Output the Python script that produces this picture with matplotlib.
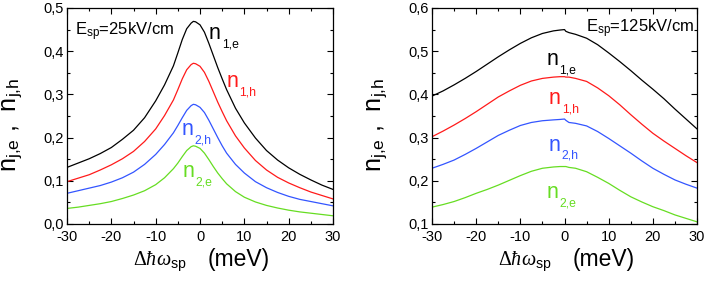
import matplotlib
matplotlib.use("Agg")
import matplotlib.pyplot as plt
import matplotlib.ticker as ticker

plt.rcParams["font.family"] = ["Liberation Sans", "DejaVu Sans"]
plt.rcParams["axes.unicode_minus"] = False
plt.rcParams["mathtext.fontset"] = "custom"
plt.rcParams["mathtext.rm"] = "Liberation Serif"
plt.rcParams["mathtext.sf"] = "Liberation Sans"
plt.rcParams["mathtext.it"] = "Liberation Serif:italic"

# ── data: E_sp = 25 kV/cm ────────────────────────────────────────────────────
x_25 = [-30, -27.5, -25, -22.5, -20, -17.5, -15, -12.5, -10, -8, -6, -5, -4, -3, -2,
        -1.5, -1, 0, 1, 2, 3, 4, 5, 6, 8, 10, 12.5, 15, 17.5, 20, 22.5, 25, 27.5, 30]
n1e_25 = [0.131, 0.141, 0.151, 0.163, 0.177, 0.196, 0.217, 0.246, 0.285, 0.322, 0.366,
          0.396, 0.427, 0.452, 0.465, 0.469, 0.468, 0.461, 0.444, 0.418, 0.390, 0.362,
          0.336, 0.311, 0.268, 0.234, 0.199, 0.170, 0.148, 0.130, 0.115, 0.102, 0.090, 0.080]
n1h_25 = [0.098, 0.106, 0.114, 0.125, 0.137, 0.151, 0.168, 0.191, 0.220, 0.251, 0.287,
          0.311, 0.336, 0.357, 0.369, 0.372, 0.371, 0.365, 0.351, 0.330, 0.306, 0.282,
          0.260, 0.239, 0.204, 0.176, 0.147, 0.125, 0.108, 0.095, 0.084, 0.074, 0.066, 0.058]
n2h_25 = [0.071, 0.077, 0.083, 0.089, 0.097, 0.107, 0.120, 0.138, 0.161, 0.184, 0.211,
          0.228, 0.246, 0.263, 0.274, 0.277, 0.276, 0.270, 0.258, 0.240, 0.220, 0.200,
          0.181, 0.164, 0.138, 0.118, 0.098, 0.084, 0.073, 0.064, 0.057, 0.052, 0.047, 0.042]
n2e_25 = [0.036, 0.039, 0.043, 0.047, 0.052, 0.059, 0.067, 0.077, 0.091, 0.107, 0.128,
          0.141, 0.156, 0.170, 0.179, 0.181, 0.180, 0.175, 0.164, 0.149, 0.133, 0.118,
          0.105, 0.093, 0.075, 0.062, 0.051, 0.043, 0.037, 0.032, 0.028, 0.025, 0.022, 0.019]

# ── data: E_sp = 125 kV/cm ───────────────────────────────────────────────────
x_125 = [-30, -27.5, -25, -22.5, -20, -17.5, -15, -12.5, -10, -7.5, -5, -2.5, -1, 0,
         0.3, 1, 2.5, 5, 7.5, 10, 12.5, 15, 17.5, 20, 22.5, 25, 27.5, 30]
n1e_125 = [0.396, 0.408, 0.422, 0.437, 0.453, 0.470, 0.487, 0.503, 0.518, 0.531, 0.541,
           0.547, 0.549, 0.550, 0.546, 0.543, 0.539, 0.530, 0.515, 0.496, 0.476, 0.455,
           0.433, 0.412, 0.390, 0.366, 0.343, 0.320]
n1h_125 = [0.302, 0.315, 0.329, 0.344, 0.360, 0.377, 0.394, 0.408, 0.421, 0.431, 0.437,
           0.440, 0.441, 0.441, 0.440, 0.440, 0.437, 0.430, 0.415, 0.397, 0.376, 0.353,
           0.331, 0.310, 0.292, 0.275, 0.258, 0.242]
n2h_125 = [0.229, 0.238, 0.248, 0.261, 0.275, 0.290, 0.305, 0.317, 0.328, 0.335, 0.339,
           0.341, 0.342, 0.343, 0.340, 0.335, 0.333, 0.327, 0.314, 0.298, 0.281, 0.264,
           0.246, 0.229, 0.215, 0.202, 0.192, 0.183]
n2e_125 = [0.139, 0.145, 0.152, 0.161, 0.171, 0.180, 0.190, 0.201, 0.212, 0.222, 0.229,
           0.232, 0.233, 0.233, 0.233, 0.231, 0.229, 0.221, 0.208, 0.194, 0.178, 0.163,
           0.151, 0.140, 0.131, 0.121, 0.113, 0.105]

BLACK, RED, BLUE, GREEN = "black", "#ff1a1a", "#3355ff", "#66dd22"
YLABEL = r"n$_{\mathsf{j{,}e}}$ ,  n$_{\mathsf{j{,}h}}$"


def comma(v, pos):
    return f"{v:.1f}".replace(".", ",")


def nlabel(ax, x, y, sub, color):
    # big "n" with a small, well-lowered subscript
    ax.text(x, y, "n", fontsize=15.5, color=color)
    ax.annotate(sub, xy=(x, y), xytext=(9.2, -6.0), textcoords="offset points",
                fontsize=8.8, color=color)


def style(ax, ylim):
    ax.set_xlim(-30, 30)
    ax.set_ylim(*ylim)
    ax.xaxis.set_major_locator(ticker.MultipleLocator(10))
    ax.xaxis.set_minor_locator(ticker.MultipleLocator(5))
    ax.yaxis.set_major_locator(ticker.MultipleLocator(0.1))
    ax.yaxis.set_minor_locator(ticker.MultipleLocator(0.05))
    ax.yaxis.set_major_formatter(ticker.FuncFormatter(comma))
    ax.tick_params(which="both", direction="in", top=True, right=True, labelsize=10.5)
    ax.tick_params(axis="x", pad=4)
    ax.tick_params(axis="y", pad=2)
    ax.tick_params(which="major", length=4, width=0.8)
    ax.tick_params(which="minor", length=2.5, width=0.8)
    for s in ax.spines.values():
        s.set_linewidth(0.9)
    # x label: math part and unit part drawn separately
    ax.text(0.248, -0.194, r"$\Delta\hbar\omega_{\mathsf{sp}}$", fontsize=14.5,
            transform=ax.transAxes, va="baseline")
    ax.text(0.530, -0.194, "(meV)", fontsize=16.5, transform=ax.transAxes, va="baseline")
    ax.set_ylabel(YLABEL, fontsize=18)
    ax.yaxis.set_label_coords(-0.158, 0.46)


fig = plt.figure(figsize=(7.06, 2.83), dpi=100)
ax1 = fig.add_axes([0.0949, 0.2085, 0.3768, 0.7633])
ax2 = fig.add_axes([0.6119, 0.2085, 0.3754, 0.7633])

# ── left panel ──
for ys, c in [(n1e_25, BLACK), (n1h_25, RED), (n2h_25, BLUE), (n2e_25, GREEN)]:
    ax1.plot(x_25, ys, color=c, lw=0.9)
style(ax1, (0, 0.5))
ax1.text(-28.3, 0.437, r"E$_{\mathsf{sp}}$=25kV/cm", fontsize=12)
nlabel(ax1, 2.0, 0.428, "1,e", BLACK)
nlabel(ax1, 5.9, 0.317, "1,h", RED)
nlabel(ax1, -4.1, 0.206, "2,h", BLUE)
nlabel(ax1, -3.9, 0.109, "2,e", GREEN)

# ── right panel ──
for ys, c in [(n1e_125, BLACK), (n1h_125, RED), (n2h_125, BLUE), (n2e_125, GREEN)]:
    ax2.plot(x_125, ys, color=c, lw=0.9)
style(ax2, (0.1, 0.6))
ax2.text(4.9, 0.544, r"E$_{\mathsf{sp}}$=125kV/cm", fontsize=12)
nlabel(ax2, -4.1, 0.468, "1,e", BLACK)
nlabel(ax2, -3.5, 0.378, "1,h", RED)
nlabel(ax2, -3.5, 0.270, "2,h", BLUE)
nlabel(ax2, -4.1, 0.160, "2,e", GREEN)

fig.savefig("out.png", dpi=100)
